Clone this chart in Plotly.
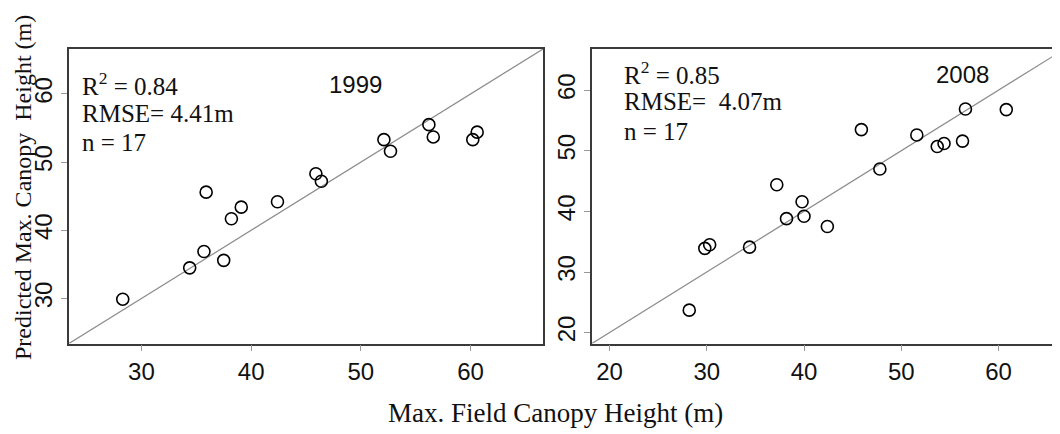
import plotly.graph_objects as go

# ---- data ----
field_1999 = [28.3, 34.4, 35.7, 35.9, 37.5, 38.2, 39.1, 42.4, 45.9, 46.4,
              52.1, 52.7, 56.2, 56.6, 60.2, 60.6]
pred_1999 = [29.9, 34.5, 36.9, 45.6, 35.6, 41.7, 43.4, 44.2, 48.3, 47.2,
             53.3, 51.6, 55.5, 53.7, 53.3, 54.4]
field_2008 = [28.2, 29.8, 30.3, 34.4, 37.2, 38.2, 39.8, 40.0, 42.4, 45.9,
              47.8, 51.6, 53.7, 54.4, 56.3, 56.6, 60.8]
pred_2008 = [23.7, 33.9, 34.5, 34.1, 44.4, 38.8, 41.6, 39.2, 37.5, 53.5,
             47.0, 52.6, 50.7, 51.2, 51.6, 56.9, 56.8]
ticks_1999 = [30, 40, 50, 60]
ticks_2008 = [20, 30, 40, 50, 60]
lim_1999 = [23.4, 66.6]
lim_2008 = [18.2, 66.8]
stats_1999 = ["R<sup>2</sup> = 0.84", "RMSE= 4.41m", "n = 17"]
stats_2008 = ["R<sup>2</sup> = 0.85", "RMSE=  4.07m", "n = 17"]

# page body has an 8px margin; size the figure to fill the rest of the window
OFF = 8
PAGE_W, PAGE_H = 1060, 434
W, H = PAGE_W - OFF, PAGE_H - OFF
def px(x):
    return (x - OFF) / W
def py(y):
    return 1 - (y - OFF) / H

fig = go.Figure()
# 1:1 lines
fig.add_trace(go.Scatter(x=lim_1999, y=lim_1999, mode="lines",
                         line=dict(color="#8c8c8c", width=1.2),
                         xaxis="x", yaxis="y", showlegend=False, hoverinfo="skip"))
fig.add_trace(go.Scatter(x=lim_2008, y=lim_2008, mode="lines",
                         line=dict(color="#8c8c8c", width=1.2),
                         xaxis="x2", yaxis="y2", showlegend=False, hoverinfo="skip"))
mk = dict(symbol="circle-open", size=12, color="black", line=dict(width=1.6, color="black"))
fig.add_trace(go.Scatter(x=field_1999, y=pred_1999, mode="markers", marker=mk,
                         xaxis="x", yaxis="y", showlegend=False))
fig.add_trace(go.Scatter(x=field_2008, y=pred_2008, mode="markers", marker=mk,
                         xaxis="x2", yaxis="y2", showlegend=False))

tickfont = dict(family="Liberation Sans, Arial, sans-serif", size=24, color="#111")
axcommon = dict(showgrid=False, zeroline=False, showline=True, linecolor="#3a3a3a",
                linewidth=1.6, ticks="outside", ticklen=6, tickcolor="#999",
                tickwidth=1, tickfont=tickfont)

# right panel is cut by the window edge
x2_right = lim_2008[0] + (PAGE_W - 592) / ((999 - 610) / 40.0)

fig.update_layout(
    width=W, height=H, autosize=False,
    margin=dict(l=0, r=0, t=0, b=0),
    paper_bgcolor="white", plot_bgcolor="white",
    xaxis=dict(domain=[px(69), px(543)], range=lim_1999, tickvals=ticks_1999,
               mirror=True, anchor="y", **axcommon),
    yaxis=dict(domain=[py(343.5), py(49)], range=lim_1999, tickvals=ticks_1999,
               mirror=True, anchor="x", tickangle=-90, **axcommon),
    xaxis2=dict(domain=[px(592), 1.0], range=[lim_2008[0], x2_right], tickvals=ticks_2008,
                mirror=True, anchor="y2", **axcommon),
    yaxis2=dict(domain=[py(343.5), py(49)], range=lim_2008, tickvals=ticks_2008,
                mirror=False, anchor="x2", tickangle=-90, **axcommon),
)

serif = "Liberation Serif, Times New Roman, serif"
ann = []
for t, yy in zip(stats_1999, [84, 113, 142]):
    ann.append(dict(text=t, x=px(80), y=py(yy), xref="paper", yref="paper",
                    xanchor="left", yanchor="middle", showarrow=False,
                    font=dict(family=serif, size=25, color="#111")))
for t, yy in zip(stats_2008, [73, 102, 132]):
    ann.append(dict(text=t, x=px(622), y=py(yy), xref="paper", yref="paper",
                    xanchor="left", yanchor="middle", showarrow=False,
                    font=dict(family=serif, size=25, color="#111")))
ann.append(dict(text="1999", x=px(355.5), y=py(84), xref="paper", yref="paper",
                xanchor="center", yanchor="middle", showarrow=False,
                font=dict(family="Liberation Sans, Arial, sans-serif", size=24, color="#111")))
ann.append(dict(text="2008", x=px(962.5), y=py(75), xref="paper", yref="paper",
                xanchor="center", yanchor="middle", showarrow=False,
                font=dict(family="Liberation Sans, Arial, sans-serif", size=24, color="#111")))
ann.append(dict(text="Max. Field Canopy Height (m)", x=px(555), y=py(413),
                xref="paper", yref="paper", xanchor="center", yanchor="middle",
                showarrow=False, font=dict(family=serif, size=27, color="#111")))
ann.append(dict(text="Predicted Max. Canopy\u00a0 Height (m)", x=px(23), y=py(188),
                xref="paper", yref="paper", xanchor="center", yanchor="middle",
                textangle=-90, showarrow=False,
                font=dict(family=serif, size=24, color="#111")))
fig.update_layout(annotations=ann)

fig.write_html("out.html")
